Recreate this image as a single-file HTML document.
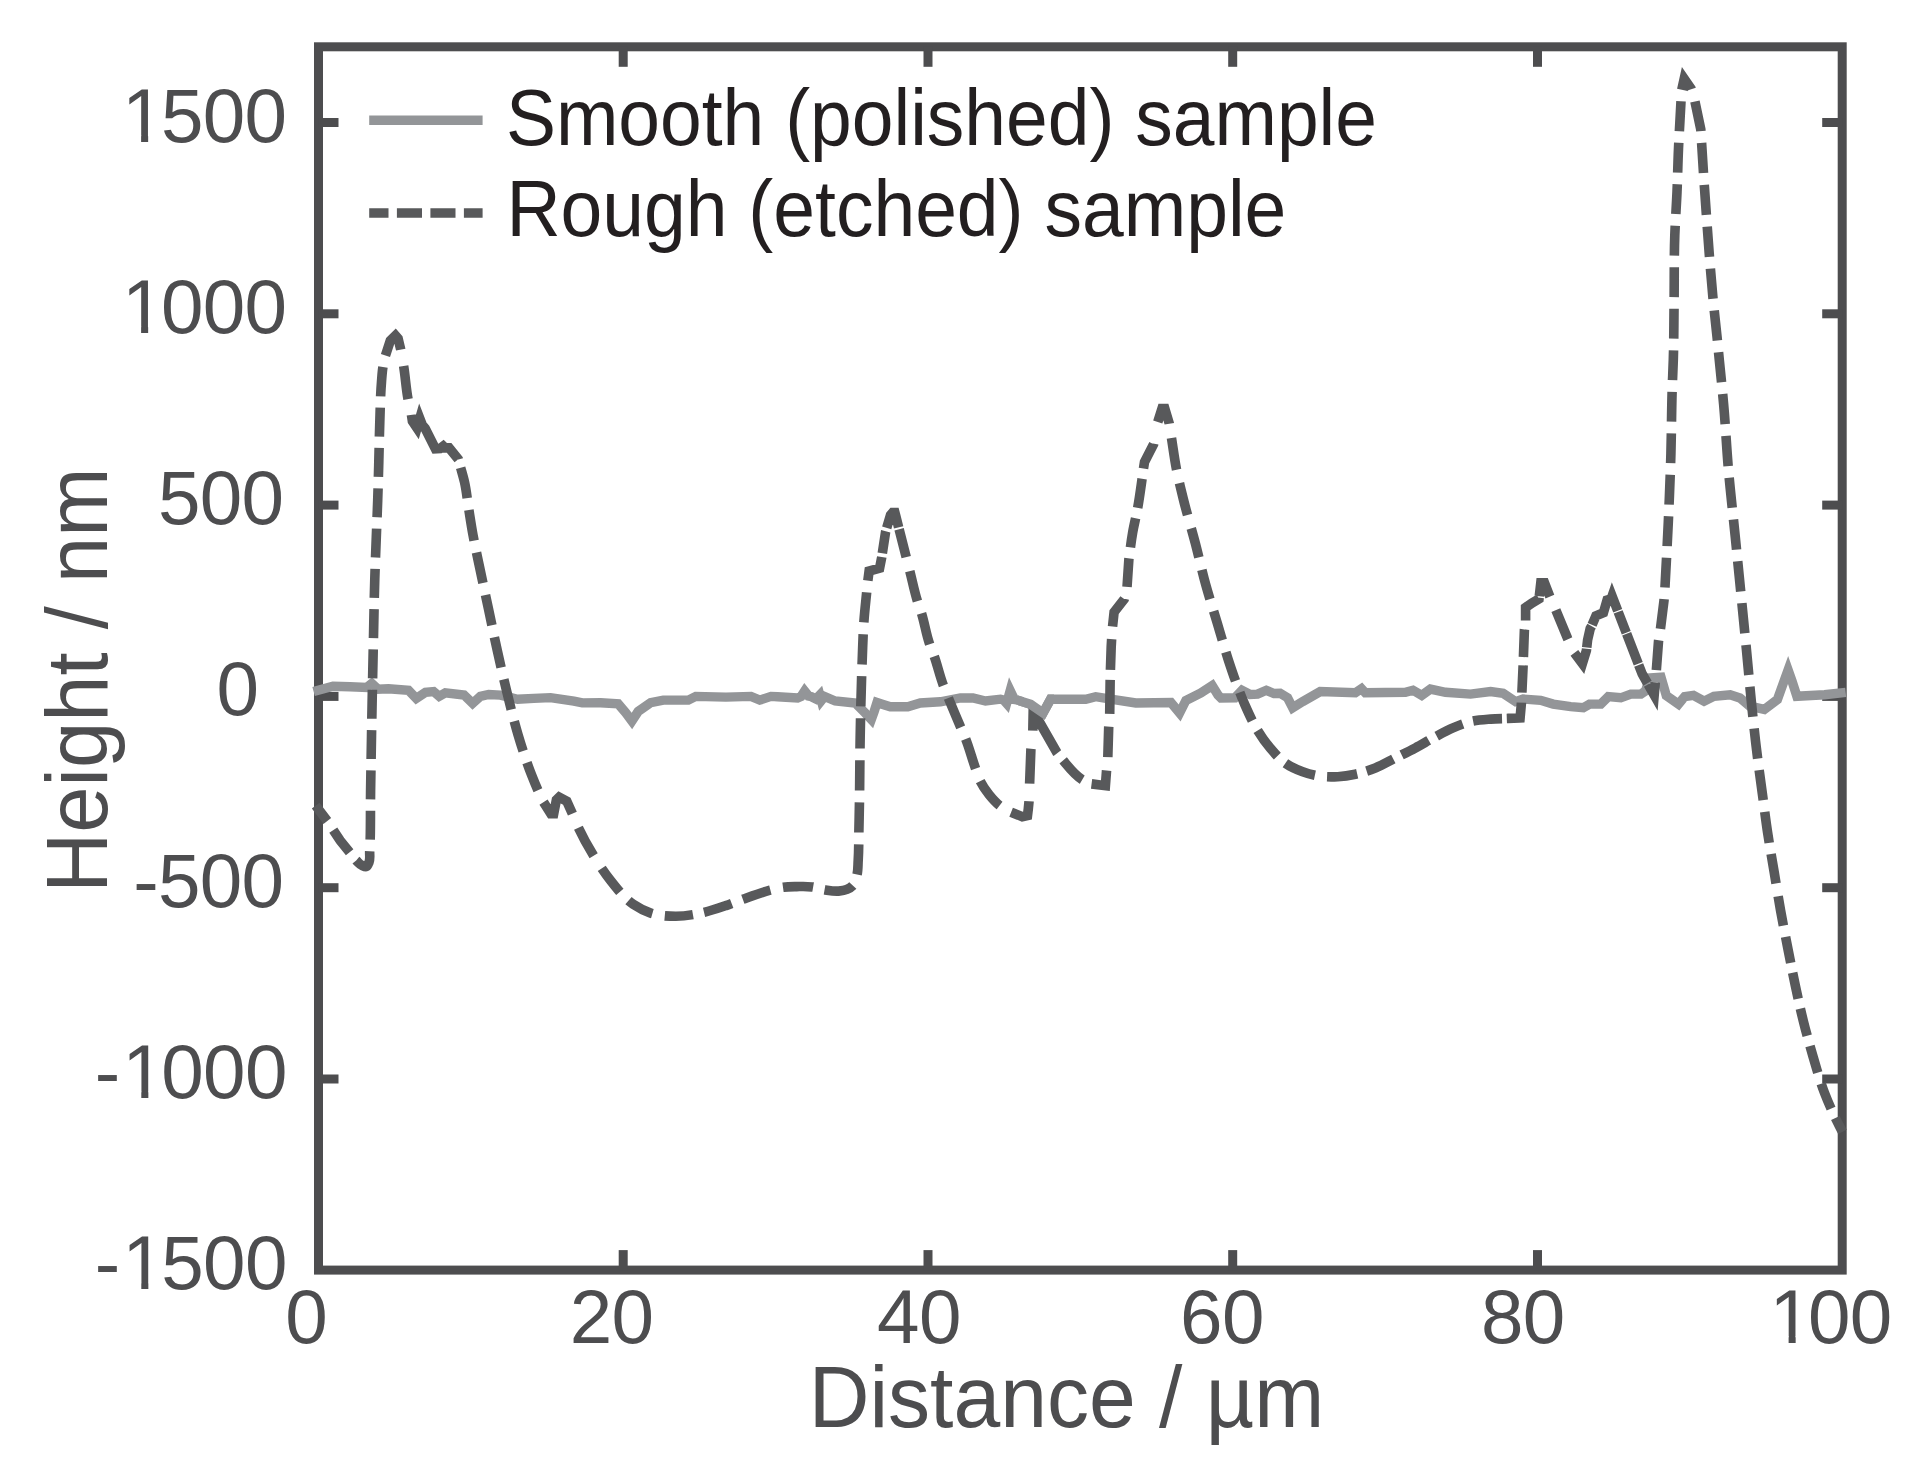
<!DOCTYPE html>
<html lang="en">
<head>
<meta charset="utf-8">
<title>Surface profile: smooth vs rough sample</title>
<style>
html,body{margin:0;padding:0;background:#fff;}
body{width:1916px;height:1475px;overflow:hidden;position:relative;}
svg{position:absolute;left:0;top:0;display:block;}
text{font-family:"Liberation Sans",sans-serif;}
.tk{font-size:76.4px;fill:#4d4d4f;letter-spacing:-0.7px;}
.ax{font-size:87.5px;fill:#4d4d4f;}
.lg{font-size:79px;fill:#231f20;}
</style>
</head>
<body>
<svg width="1916" height="1475" viewBox="0 0 1916 1475">
<rect x="0" y="0" width="1916" height="1475" fill="#ffffff"/>
<g id="frame" fill="none" stroke="#4d4d4f" stroke-width="9.0" stroke-linecap="butt">
<rect x="318.5" y="46.8" width="1523.7" height="1223.3"/>
<line x1="623.2" y1="1270.1" x2="623.2" y2="1250.1"/>
<line x1="623.2" y1="46.8" x2="623.2" y2="66.8"/>
<line x1="928.0" y1="1270.1" x2="928.0" y2="1250.1"/>
<line x1="928.0" y1="46.8" x2="928.0" y2="66.8"/>
<line x1="1232.7" y1="1270.1" x2="1232.7" y2="1250.1"/>
<line x1="1232.7" y1="46.8" x2="1232.7" y2="66.8"/>
<line x1="1537.5" y1="1270.1" x2="1537.5" y2="1250.1"/>
<line x1="1537.5" y1="46.8" x2="1537.5" y2="66.8"/>
<line x1="318.5" y1="1079.0" x2="338.5" y2="1079.0"/>
<line x1="1842.2" y1="1079.0" x2="1822.2" y2="1079.0"/>
<line x1="318.5" y1="887.7" x2="338.5" y2="887.7"/>
<line x1="1842.2" y1="887.7" x2="1822.2" y2="887.7"/>
<line x1="318.5" y1="696.4" x2="338.5" y2="696.4"/>
<line x1="1842.2" y1="696.4" x2="1822.2" y2="696.4"/>
<line x1="318.5" y1="505.1" x2="338.5" y2="505.1"/>
<line x1="1842.2" y1="505.1" x2="1822.2" y2="505.1"/>
<line x1="318.5" y1="313.8" x2="338.5" y2="313.8"/>
<line x1="1842.2" y1="313.8" x2="1822.2" y2="313.8"/>
<line x1="318.5" y1="122.5" x2="338.5" y2="122.5"/>
<line x1="1842.2" y1="122.5" x2="1822.2" y2="122.5"/>
</g>
<g id="curves" fill="none" stroke-linejoin="miter" stroke-miterlimit="10">
<path id="smooth" stroke="#939598" stroke-width="9.4" d="M313.6,691.5 L333.0,686.2 L350.0,686.8 L366.8,687.5 L371.8,683.5 L378.0,689.2 L388.5,688.7 L408.5,690.2 L416.3,698.4 L425.5,692.3 L433.6,691.5 L439.2,696.3 L445.3,692.9 L464.0,695.0 L472.6,703.4 L480.4,696.3 L488.7,694.5 L500.4,695.1 L517.5,699.2 L533.8,698.4 L550.5,697.6 L573.9,701.2 L582.3,702.9 L600.6,702.8 L618.2,703.9 L625.7,712.7 L631.9,721.0 L638.2,711.4 L650.7,702.6 L663.3,700.1 L688.3,700.1 L695.8,696.4 L725.9,697.1 L751.0,696.4 L759.7,700.1 L771.0,696.4 L777.5,696.7 L797.6,698.0 L801.0,696.5 L804.6,691.0 L808.5,696.0 L811.4,696.7 L816.0,699.0 L819.8,695.0 L821.3,700.5 L824.5,696.5 L835.2,701.0 L855.2,703.0 L865.2,713.0 L871.3,719.5 L874.0,712.0 L877.0,702.5 L883.0,704.5 L890.3,706.8 L907.8,706.8 L920.3,703.0 L940.4,701.8 L960.4,698.0 L973.0,698.0 L985.5,701.0 L1000.5,699.2 L1003.5,700.0 L1006.6,703.5 L1010.2,690.5 L1014.5,699.5 L1017.0,700.0 L1030.6,704.3 L1043.1,713.0 L1050.6,699.2 L1085.7,699.2 L1095.7,696.7 L1110.7,699.2 L1135.8,703.0 L1170.9,702.5 L1179.6,713.0 L1185.9,700.5 L1200.9,693.0 L1212.2,685.5 L1218.0,695.0 L1221.0,698.0 L1235.0,697.8 L1242.0,690.3 L1250.0,694.5 L1257.6,694.1 L1266.3,690.3 L1274.0,693.5 L1280.1,693.3 L1287.6,697.8 L1292.7,707.8 L1302.7,701.6 L1320.2,691.6 L1355.3,692.8 L1361.5,688.6 L1365.3,692.8 L1405.4,692.3 L1413.0,690.3 L1421.7,695.3 L1430.4,689.1 L1445.5,692.3 L1470.5,694.1 L1490.6,691.6 L1503.1,693.3 L1515.6,701.6 L1523.1,699.1 L1540.7,700.3 L1553.2,704.1 L1570.7,706.6 L1583.3,707.8 L1589.5,704.1 L1600.8,704.1 L1608.3,696.6 L1620.8,697.8 L1630.8,694.1 L1640.9,694.1 L1645.5,691.0 L1649.8,678.0 L1661.0,677.3 L1666.3,695.5 L1678.5,704.1 L1684.7,696.6 L1693.5,695.3 L1704.1,701.2 L1713.9,696.3 L1730.2,694.7 L1739.9,698.0 L1749.7,706.1 L1764.3,709.4 L1777.4,699.6 L1783.0,684.0 L1788.1,670.0 L1792.0,681.0 L1796.9,696.3 L1824.5,694.7 L1845.7,692.4"/>
</g>
<g id="rough" fill="none" stroke="#58595b" stroke-width="9.6" stroke-linejoin="miter" stroke-miterlimit="10" stroke-linecap="butt">
<path d="M315.70,805.60L327.30,821.00L340.10,840.40L356.20,860.50C358.13,862.13 359.75,864.37 362.00,865.40C363.35,866.02 365.26,867.01 366.40,866.60C367.66,866.15 368.37,863.81 369.00,862.30C370.38,858.99 369.49,854.97 369.70,851.30C370.84,831.00 370.28,810.63 370.60,790.30C370.73,782.20 370.86,774.10 371.00,766.00C371.35,745.23 371.70,724.47 372.10,703.70C372.53,681.43 373.02,659.17 373.50,636.90C373.92,617.43 374.21,597.96 374.80,578.50C375.22,564.66 375.78,550.83 376.30,537.00C376.75,524.80 377.29,512.60 377.70,500.40C378.13,487.60 378.46,474.80 378.80,462.00C379.16,448.63 379.35,435.26 379.80,421.90C380.25,408.53 380.41,395.13 381.50,381.80C381.90,376.93 382.12,372.02 382.90,367.20C383.53,363.30 384.57,359.47 385.40,355.60L390.30,340.70L395.50,335.60L398.10,338.60L400.70,349.50C401.67,354.93 402.71,360.35 403.60,365.80C405.39,376.78 405.94,387.97 408.00,398.90C409.00,404.19 410.27,409.43 411.40,414.70L412.40,421.30L417.00,428.10L419.80,418.50L422.40,425.20L425.20,428.50L434.00,446.00L435.40,448.80L440.00,448.60L443.30,446.10L445.20,447.90L449.10,447.90L458.30,459.30C459.07,462.03 459.84,464.76 460.60,467.50C461.93,472.32 463.39,477.13 464.50,482.00C466.51,490.80 467.27,499.87 468.70,508.80C470.10,517.54 471.41,526.29 473.00,535.00C474.94,545.64 477.29,556.21 479.50,566.80C482.40,580.71 485.45,594.60 488.40,608.50C491.41,622.70 494.26,636.93 497.40,651.10C500.50,665.06 503.68,679.01 507.10,692.90C510.54,706.85 513.89,720.84 518.00,734.60C522.09,748.31 526.46,761.99 531.70,775.30C533.64,780.23 535.64,785.15 537.80,790.00C539.58,794.00 541.53,797.93 543.40,801.90L550.80,813.80L553.70,813.80L556.40,799.90L559.20,797.20L566.80,801.20L572.30,813.50C574.30,818.17 576.16,822.90 578.30,827.50C582.77,837.12 587.96,846.46 593.50,855.50C598.77,864.10 604.30,872.65 610.60,880.50C617.43,889.00 624.26,898.26 633.20,904.30C638.53,907.91 644.59,911.09 650.70,913.10C658.60,915.70 667.43,916.30 675.80,916.30C684.13,916.30 692.61,914.82 700.80,913.10C709.32,911.31 717.64,908.43 725.90,905.60C731.48,903.68 736.94,901.39 742.50,899.40C751.63,896.13 760.72,892.63 770.10,890.20C774.49,889.06 778.91,887.80 783.40,887.20C787.81,886.61 792.33,886.66 796.80,886.60C801.80,886.53 806.86,886.28 811.80,886.90C816.32,887.47 820.69,889.20 825.20,889.90C829.59,890.58 834.11,891.48 838.50,891.10C841.32,890.86 844.33,890.52 846.90,889.40C848.98,888.49 851.17,887.20 852.70,885.60C855.17,883.01 855.96,878.78 856.90,875.20C858.16,870.40 857.87,865.21 858.20,860.20C858.86,850.19 858.68,840.13 858.90,830.10C859.08,821.77 859.25,813.43 859.40,805.10C859.81,781.94 859.77,758.76 860.20,735.60C860.67,710.53 861.23,685.46 862.20,660.40C862.72,647.03 863.00,633.64 864.00,620.30C864.68,611.19 865.70,602.10 866.60,593.00C866.99,589.03 867.40,585.07 867.80,581.10L869.10,571.10L879.60,568.20L881.70,557.50L885.60,531.70L890.50,515.00L892.60,512.60L894.90,512.60L895.80,516.00L898.50,526.90C901.03,536.83 903.54,546.77 906.10,556.70C907.29,561.33 908.51,565.96 909.70,570.60C912.28,580.62 914.23,590.83 917.30,600.70C918.57,604.79 920.11,608.81 921.40,612.90C924.59,623.05 926.05,633.74 929.50,643.80C930.91,647.91 932.64,651.91 934.10,656.00C937.51,665.54 939.66,675.51 943.20,685.00C944.77,689.20 946.51,693.34 948.20,697.50C952.18,707.31 956.36,717.05 960.50,726.80C962.16,730.70 963.93,734.56 965.50,738.50C969.36,748.15 971.91,758.30 975.40,768.10C976.90,772.31 978.06,776.70 980.00,780.70C982.38,785.61 985.58,790.23 989.00,794.50C992.07,798.33 995.36,802.18 999.20,805.20C1002.65,807.91 1006.80,809.73 1010.60,812.00L1022.30,816.70L1027.50,815.60L1028.30,808.90L1029.00,801.80L1029.60,784.20L1030.90,749.30L1032.80,731.10L1033.20,711.00L1057.00,752.70C1058.93,755.13 1060.80,757.62 1062.80,760.00C1068.60,766.91 1074.18,774.66 1081.80,779.30C1084.68,781.06 1087.93,782.30 1091.00,783.80L1105.40,785.70L1106.50,771.10L1107.80,757.70L1108.70,727.30L1109.70,714.50L1110.20,676.70L1111.20,646.60L1111.60,639.70L1112.50,627.00L1114.10,612.10L1124.20,599.10L1127.00,587.40L1128.90,558.90C1130.13,550.20 1131.09,541.45 1132.60,532.80C1134.02,524.62 1136.13,516.57 1137.60,508.40C1139.34,498.75 1140.64,489.02 1142.00,479.30C1142.48,475.87 1142.93,472.43 1143.40,469.00L1144.50,462.00L1153.60,444.20L1157.60,422.60L1162.00,408.50L1164.80,408.50L1169.20,423.20L1171.40,437.40C1173.07,447.90 1174.37,458.47 1176.40,468.90C1178.36,479.00 1180.84,489.01 1183.30,499.00C1186.92,513.69 1191.37,528.16 1195.20,542.80C1198.90,556.93 1201.99,571.23 1205.90,585.30C1209.39,597.88 1213.44,610.30 1217.20,622.80C1220.97,635.33 1224.42,647.97 1228.50,660.40C1231.26,668.81 1234.09,677.21 1237.20,685.50C1239.70,692.15 1242.24,698.80 1245.10,705.30C1248.87,713.85 1252.72,722.46 1257.60,730.40C1261.35,736.49 1265.49,742.44 1270.10,747.90C1274.66,753.30 1279.39,758.95 1285.10,763.00C1290.36,766.74 1296.59,769.46 1302.70,771.70C1308.33,773.76 1314.27,775.37 1320.20,776.20C1325.94,777.00 1331.89,777.02 1337.70,776.70C1343.60,776.37 1349.53,775.46 1355.30,774.20C1362.10,772.72 1368.83,770.57 1375.30,768.00C1382.23,765.24 1388.71,761.35 1395.40,758.00C1402.08,754.65 1408.81,751.41 1415.40,747.90C1422.14,744.31 1428.64,740.26 1435.40,736.70C1441.20,733.64 1446.98,730.47 1453.00,727.90C1458.69,725.47 1464.51,723.06 1470.50,721.60C1477.02,720.01 1483.88,719.63 1490.60,719.10C1496.41,718.64 1502.27,718.64 1508.10,718.40C1512.10,718.24 1516.10,718.07 1520.10,717.90L1521.40,703.30L1523.10,666.00L1524.40,630.10L1525.60,621.20L1525.60,607.50L1532.00,603.00L1539.00,598.90L1540.80,582.90L1544.50,582.90L1549.60,596.00L1555.60,609.60L1567.70,638.70L1574.00,652.30L1582.40,663.60L1586.40,650.60L1587.60,640.00L1590.20,628.60L1591.70,625.90L1595.90,615.90L1603.40,612.80L1607.10,600.10L1611.20,598.80L1612.10,596.20L1642.20,674.00L1654.20,695.00L1656.30,670.80L1658.50,641.40L1660.40,629.30L1664.00,600.50L1664.90,588.70C1666.03,566.53 1667.31,544.37 1668.30,522.20C1669.32,499.44 1670.24,476.67 1670.90,453.90C1671.52,432.21 1671.49,410.49 1672.20,388.80C1672.51,379.20 1673.01,369.60 1673.30,360.00C1673.90,340.18 1673.86,320.33 1674.10,300.50C1674.36,278.80 1674.05,257.08 1674.80,235.40C1675.30,220.93 1676.38,206.47 1677.00,192.00C1677.62,177.54 1677.86,163.06 1678.50,148.60C1678.98,137.73 1679.62,126.87 1680.20,116.00C1680.66,107.47 1681.13,98.93 1681.60,90.40L1684.20,78.70L1691.00,88.60L1694.80,100.80L1700.80,129.50C1701.67,143.60 1702.48,157.70 1703.40,171.80C1704.31,185.77 1705.30,199.74 1706.30,213.70C1707.33,228.17 1708.35,242.64 1709.50,257.10C1710.53,270.14 1711.58,283.18 1712.80,296.20C1714.09,309.98 1715.72,323.73 1717.10,337.50C1717.85,345.00 1718.57,352.50 1719.30,360.00C1720.77,375.03 1722.38,390.05 1723.70,405.10C1725.60,426.77 1726.60,448.53 1728.50,470.20C1730.40,491.93 1732.91,513.60 1735.10,535.30C1737.28,556.97 1739.46,578.63 1741.60,600.30C1743.21,616.60 1744.83,632.90 1746.40,649.20C1748.07,666.53 1749.55,683.88 1751.30,701.20C1752.84,716.41 1754.39,731.62 1756.20,746.80C1758.08,762.56 1760.30,778.27 1762.40,794.00C1764.11,806.84 1765.67,819.70 1767.60,832.50C1769.57,845.56 1771.93,858.57 1774.10,871.60C1776.26,884.60 1778.28,897.63 1780.60,910.60C1782.94,923.66 1785.54,936.68 1788.10,949.70C1790.45,961.64 1792.76,973.60 1795.30,985.50C1797.86,997.46 1800.44,1009.43 1803.40,1021.30C1806.40,1033.30 1809.71,1045.23 1813.20,1057.10C1816.73,1069.10 1820.03,1081.23 1824.50,1092.90C1827.46,1100.61 1830.78,1108.22 1834.30,1115.70C1836.87,1121.16 1839.70,1126.50 1842.40,1131.90" stroke-dasharray="19.28 10.86 27.63 10.50 28.53 11.50 29.00 11.31 29.00 11.31 29.00 11.31 29.00 11.31 29.00 11.31 29.00 11.31 29.00 11.31 29.00 11.31 29.00 11.31 29.00 11.31 29.00 11.31 29.47 11.87 38.14 16.56 33.40 16.16 89.03 8.52 31.09 12.13 31.09 12.13 31.09 12.13 31.09 12.13 31.09 12.13 31.09 12.13 31.09 12.13 29.73 13.15 57.02 15.23 31.88 15.04 29.69 12.33 27.33 12.57 28.26 11.35 29.02 11.90 29.10 12.89 30.21 11.71 29.74 11.84 30.24 11.79 30.24 11.79 30.24 11.79 30.24 11.79 30.24 11.79 30.24 11.79 30.24 11.79 31.88 3.76 22.33 3.53 34.11 2.00 28.75 14.36 31.05 12.87 31.96 13.04 30.40 13.46 31.78 12.72 31.22 13.42 31.33 13.29 31.81 17.61 34.92 18.30 68.12 9.32 27.22 10.25 29.17 13.46 30.41 12.84 34.05 10.03 30.75 12.73 31.45 12.03 28.56 11.05 29.65 10.57 29.43 10.39 27.08 21.97 32.91 14.37 32.15 13.81 32.87 13.79 30.08 12.77 30.33 12.55 30.31 12.50 30.31 12.29 30.85 11.26 32.37 10.75 32.02 12.27 30.34 9.85 29.28 9.32 30.72 9.07 28.76 10.78 29.05 4.76 28.67 10.02 27.31 8.29 27.63 8.98 30.24 1.30 31.95 14.86 31.52 14.99 28.86 1.20 22.21 1.20 53.83 1.20 22.35 1.20 32.12 1.20 20.40 1.20 25.03 12.27 29.87 11.65 29.87 11.65 29.87 11.65 29.87 11.65 29.87 11.65 29.87 11.65 29.87 11.65 29.87 11.65 29.87 11.65 29.87 11.65 29.87 11.65 29.87 11.65 29.87 11.65 29.87 11.65 24.00 12.78 30.22 11.79 30.22 11.79 30.22 11.79 30.22 11.79 30.22 11.79 30.22 11.79 30.22 11.78 30.22 11.78 30.22 11.78 30.22 11.78 30.22 11.78 30.22 11.78 30.22 11.78 30.22 11.78 30.22 11.78 30.22 11.78 30.22 11.78 31.34 11.29 29.83 13.01 29.79 11.52 26.53 10.01 26.58 10.06 28.12 10.54 27.82 11.52 26.80 10.29 21.35 10000.00"/>
</g>
<polygon points="1024,686 1041,686 1041,707 1024,699" fill="#ffffff"/>
<clipPath id="cpatch"><rect x="1018" y="688" width="36" height="40"/></clipPath>
<path fill="none" stroke="#939598" stroke-width="9.4" stroke-linejoin="miter" stroke-miterlimit="10" clip-path="url(#cpatch)" d="M313.6,691.5 L333.0,686.2 L350.0,686.8 L366.8,687.5 L371.8,683.5 L378.0,689.2 L388.5,688.7 L408.5,690.2 L416.3,698.4 L425.5,692.3 L433.6,691.5 L439.2,696.3 L445.3,692.9 L464.0,695.0 L472.6,703.4 L480.4,696.3 L488.7,694.5 L500.4,695.1 L517.5,699.2 L533.8,698.4 L550.5,697.6 L573.9,701.2 L582.3,702.9 L600.6,702.8 L618.2,703.9 L625.7,712.7 L631.9,721.0 L638.2,711.4 L650.7,702.6 L663.3,700.1 L688.3,700.1 L695.8,696.4 L725.9,697.1 L751.0,696.4 L759.7,700.1 L771.0,696.4 L777.5,696.7 L797.6,698.0 L801.0,696.5 L804.6,691.0 L808.5,696.0 L811.4,696.7 L816.0,699.0 L819.8,695.0 L821.3,700.5 L824.5,696.5 L835.2,701.0 L855.2,703.0 L865.2,713.0 L871.3,719.5 L874.0,712.0 L877.0,702.5 L883.0,704.5 L890.3,706.8 L907.8,706.8 L920.3,703.0 L940.4,701.8 L960.4,698.0 L973.0,698.0 L985.5,701.0 L1000.5,699.2 L1003.5,700.0 L1006.6,703.5 L1010.2,690.5 L1014.5,699.5 L1017.0,700.0 L1030.6,704.3 L1043.1,713.0 L1050.6,699.2 L1085.7,699.2 L1095.7,696.7 L1110.7,699.2 L1135.8,703.0 L1170.9,702.5 L1179.6,713.0 L1185.9,700.5 L1200.9,693.0 L1212.2,685.5 L1218.0,695.0 L1221.0,698.0 L1235.0,697.8 L1242.0,690.3 L1250.0,694.5 L1257.6,694.1 L1266.3,690.3 L1274.0,693.5 L1280.1,693.3 L1287.6,697.8 L1292.7,707.8 L1302.7,701.6 L1320.2,691.6 L1355.3,692.8 L1361.5,688.6 L1365.3,692.8 L1405.4,692.3 L1413.0,690.3 L1421.7,695.3 L1430.4,689.1 L1445.5,692.3 L1470.5,694.1 L1490.6,691.6 L1503.1,693.3 L1515.6,701.6 L1523.1,699.1 L1540.7,700.3 L1553.2,704.1 L1570.7,706.6 L1583.3,707.8 L1589.5,704.1 L1600.8,704.1 L1608.3,696.6 L1620.8,697.8 L1630.8,694.1 L1640.9,694.1 L1645.5,691.0 L1649.8,678.0 L1661.0,677.3 L1666.3,695.5 L1678.5,704.1 L1684.7,696.6 L1693.5,695.3 L1704.1,701.2 L1713.9,696.3 L1730.2,694.7 L1739.9,698.0 L1749.7,706.1 L1764.3,709.4 L1777.4,699.6 L1783.0,684.0 L1788.1,670.0 L1792.0,681.0 L1796.9,696.3 L1824.5,694.7 L1845.7,692.4"/>
<g id="legend">
<line x1="369.2" y1="120.2" x2="482.6" y2="120.2" stroke="#939598" stroke-width="9.4"/>
<line x1="369.2" y1="213" x2="482.6" y2="213" stroke="#58595b" stroke-width="9.4" stroke-dasharray="25.1 8.4" stroke-dashoffset="5.8"/>
<text class="lg" x="505.9" y="144.8" textLength="871.1" lengthAdjust="spacingAndGlyphs">Smooth (polished) sample</text>
<text class="lg" x="506.4" y="236.2" textLength="779.9" lengthAdjust="spacingAndGlyphs">Rough (etched) sample</text>
</g>
<g id="labels">
<text class="tk" id="ty1500" y="141.5"><tspan x="122.04" text-anchor="start">1</tspan><tspan x="286.4" text-anchor="end">500</tspan></text>
<text class="tk" id="ty1000" y="332.8"><tspan x="122.04" text-anchor="start">1</tspan><tspan x="286.4" text-anchor="end">000</tspan></text>
<text class="tk" id="ty500" text-anchor="end" x="283.4" y="524.1">500</text>
<text class="tk" id="ty0" text-anchor="end" x="258.4" y="715.4">0</text>
<text class="tk" id="ty-500" text-anchor="end" x="283.3" y="906.7">-500</text>
<text class="tk" id="ty-1000" text-anchor="end" x="286.7" y="1098.0">-<tspan dx="2.69">1</tspan><tspan dx="-2.69">000</tspan></text>
<text class="tk" id="ty-1500" text-anchor="end" x="286.7" y="1289.3">-<tspan dx="2.69">1</tspan><tspan dx="-2.69">500</tspan></text>
<text class="tk" id="tx0" text-anchor="middle" x="306.1" y="1342.7">0</text>
<text class="tk" id="tx20" text-anchor="middle" x="611.6" y="1342.7">20</text>
<text class="tk" id="tx40" text-anchor="middle" x="918.9" y="1342.7">40</text>
<text class="tk" id="tx60" text-anchor="middle" x="1221.9" y="1342.7">60</text>
<text class="tk" id="tx80" text-anchor="middle" x="1522.7" y="1342.7">80</text>
<text class="tk" id="tx100" y="1342.7"><tspan x="1769.54" text-anchor="start">1</tspan><tspan x="1891.5" text-anchor="end">00</tspan></text>
<g fill="#ffffff"><rect x="127.01" y="1091.58" width="14.29" height="7.42"/>
<rect x="148.35" y="1091.58" width="13.80" height="7.42"/>
<rect x="127.01" y="1282.88" width="14.29" height="7.42"/>
<rect x="148.35" y="1282.88" width="13.80" height="7.42"/>
<rect x="126.82" y="135.08" width="14.29" height="7.42"/>
<rect x="148.15" y="135.08" width="13.80" height="7.42"/>
<rect x="126.82" y="326.38" width="14.29" height="7.42"/>
<rect x="148.15" y="326.38" width="13.80" height="7.42"/>
<rect x="1774.32" y="1336.28" width="14.29" height="7.42"/>
<rect x="1795.65" y="1336.28" width="13.80" height="7.42"/></g>
<text class="ax" x="808.7" y="1426.5" textLength="515.5" lengthAdjust="spacingAndGlyphs">Distance / µm</text>
<text class="ax" transform="translate(106.9,892.7) rotate(-90)" textLength="425.2" lengthAdjust="spacingAndGlyphs">Height / nm</text>
</g>
</svg>
</body>
</html>
